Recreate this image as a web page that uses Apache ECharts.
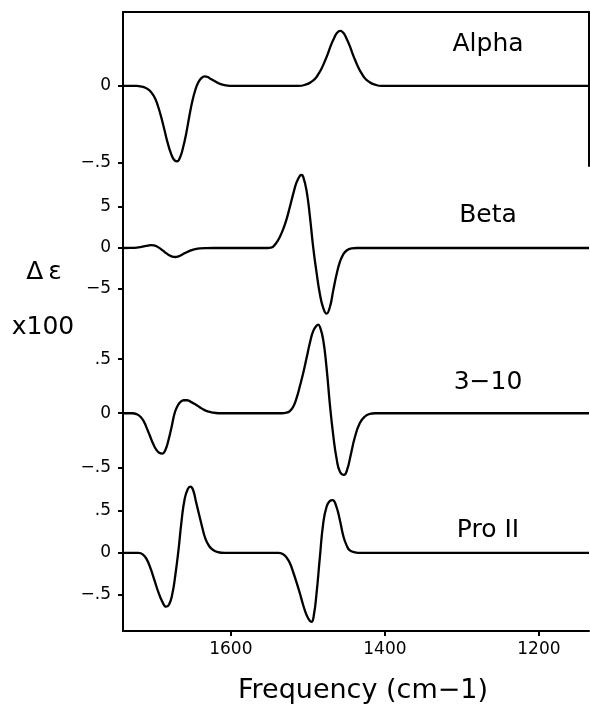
<!DOCTYPE html>
<html>
<head>
<meta charset="utf-8">
<script src="https://cdn.jsdelivr.net/npm/echarts@6/dist/echarts.min.js"></script>
<style>
  html, body { margin: 0; padding: 0; background: #fff; }
  #main { width: 590px; height: 704px; }
</style>
</head>
<body>
<div id="main"></div>
<script>
// frequency (cm-1), delta epsilon
const alpha = [[1740,0],[1722,0],[1716,-0.004],[1711,-0.012],[1706,-0.028],[1702,-0.05],[1698,-0.085],[1694,-0.14],[1690,-0.21],[1686,-0.29],[1682,-0.37],[1678,-0.435],[1674,-0.478],[1670,-0.49],[1666,-0.465],[1662,-0.4],[1658,-0.31],[1654,-0.2],[1650,-0.1],[1646,-0.025],[1642,0.025],[1638,0.052],[1634,0.062],[1630,0.058],[1626,0.045],[1620,0.028],[1614,0.013],[1606,0.004],[1598,0],
  [1512,0],[1502,0.01],[1496,0.025],[1490,0.05],[1486,0.08],[1482,0.115],[1478,0.16],[1474,0.21],[1470,0.265],[1466,0.31],[1462,0.345],[1458,0.357],[1454,0.345],[1450,0.31],[1446,0.265],[1442,0.21],[1438,0.16],[1434,0.115],[1430,0.08],[1426,0.05],[1420,0.025],[1414,0.01],[1404,0],[1135,0]];
const beta = [[1740,0],[1730,0.01],[1722,0.05],[1716,0.14],[1710,0.26],[1704,0.34],[1700,0.32],[1696,0.18],[1692,-0.05],[1688,-0.33],[1684,-0.62],[1680,-0.88],[1676,-1.05],[1672,-1.1],[1668,-1.02],[1664,-0.85],[1660,-0.65],[1656,-0.46],[1652,-0.3],[1646,-0.14],[1640,-0.05],[1632,-0.01],[1622,0],
  [1552,0],[1548,0.05],[1545,0.18],[1540.7,0.65],[1536.4,1.35],[1532,2.3],[1527.7,3.5],[1523.4,5.0],[1519,6.6],[1514.7,8.0],[1510.4,8.8],[1508.2,8.9],[1506.1,8.7],[1501.7,7.0],[1497.4,3.9],[1493.1,0.1],[1488.7,-3.0],[1484.4,-5.6],[1480.1,-7.3],[1475.7,-8.0],[1471.4,-7.2],[1467.1,-5.2],[1462.7,-3.2],[1458.4,-1.7],[1454.2,-0.8],[1449.7,-0.3],[1443.2,-0.05],[1436.8,0],[1135,0]];
const helix310 = [[1740,0],[1728,0],[1722,-0.01],[1717,-0.035],[1713,-0.075],[1709,-0.14],[1705,-0.21],[1701,-0.28],[1697,-0.335],[1693,-0.365],[1689,-0.373],[1685,-0.34],[1681,-0.25],[1677,-0.13],[1673,0],[1669,0.07],[1665,0.108],[1661,0.12],[1657,0.12],[1653,0.11],[1648,0.09],[1643,0.068],[1638,0.045],[1632,0.022],[1625,0.008],[1616,0],
  [1534,0],[1527.7,0.005],[1523.4,0.02],[1519,0.06],[1514.7,0.14],[1510.4,0.25],[1506.1,0.37],[1501.7,0.51],[1497.4,0.65],[1493.1,0.76],[1488.7,0.81],[1486.6,0.82],[1484.4,0.8],[1480.1,0.68],[1475.7,0.42],[1471.4,0.08],[1467.1,-0.2],[1462.7,-0.42],[1458.4,-0.54],[1453.2,-0.57],[1448.9,-0.52],[1444.5,-0.39],[1438.9,-0.22],[1432.5,-0.09],[1426,-0.03],[1419.5,-0.006],[1413,0],[1135,0]];
const proII = [[1740,0],[1720,0],[1714,-0.02],[1709,-0.08],[1704,-0.19],[1699,-0.33],[1694,-0.47],[1689,-0.58],[1684,-0.64],[1680,-0.61],[1676,-0.49],[1672,-0.26],[1668,0.03],[1664,0.38],[1660,0.64],[1656,0.76],[1652.5,0.79],[1649,0.75],[1645,0.6],[1641,0.45],[1637,0.3],[1633,0.17],[1628,0.08],[1623,0.035],[1617,0.01],[1608,0],
  [1545,0],[1538.6,0],[1532.1,-0.016],[1527.7,-0.055],[1523.4,-0.12],[1519,-0.23],[1514.7,-0.35],[1510.4,-0.48],[1506.1,-0.62],[1501.7,-0.74],[1497.4,-0.81],[1495.2,-0.82],[1492.2,-0.74],[1488.7,-0.48],[1484.4,-0.05],[1480.1,0.35],[1475.7,0.55],[1471.4,0.62],[1467.9,0.63],[1463.6,0.57],[1458.4,0.39],[1454.2,0.21],[1449.7,0.09],[1445.5,0.03],[1439,0.008],[1432.5,0],[1135,0]];

const panelNames = ['Alpha', 'Beta', '3\u221210', 'Pro II'];
const freqTicks = [1600, 1400, 1200];
const freqTickLabels = ['1600', '1400', '1200'];
const alphaTicks = [0, -0.5];
const alphaTickLabels = ['0', '\u2212.5'];
const betaTicks = [5, 0, -5];
const betaTickLabels = ['5', '0', '\u22125'];
const h310Ticks = [0.5, 0, -0.5];
const h310TickLabels = ['.5', '0', '\u2212.5'];
const proTicks = [0.5, 0, -0.5];
const proTickLabels = ['.5', '0', '\u2212.5'];

const FONT = 'DejaVu Sans';
const BLACK = '#000';
const X_MIN = 1135, X_MAX = 1740;

// panel layout: top / height in px, y range
const panels = [
  { top: 12, height: 154, min: -0.52, max: 0.48, ticks: alphaTicks, labels: alphaTickLabels, data: alpha, textY: 44 },
  { top: 166, height: 164, min: -10, max: 10, ticks: betaTicks, labels: betaTickLabels, data: beta, textY: 215 },
  { top: 330, height: 160, min: -0.71, max: 0.77, ticks: h310Ticks, labels: h310TickLabels, data: helix310, textY: 382 },
  { top: 490, height: 141, min: -0.93, max: 0.75, ticks: proTicks, labels: proTickLabels, data: proII, textY: 530 }
];

const axisStyle = { color: BLACK, width: 2 };
const curveStyle = { color: BLACK, width: 2.3 };

const grid = panels.map(p => ({ left: 123, right: 1, top: p.top, height: p.height }));

const xAxis = panels.map((p, i) => {
  const ax = {
    type: 'value', gridIndex: i, inverse: true, min: X_MIN, max: X_MAX,
    splitLine: { show: false },
    axisLine: { show: false, onZero: false, lineStyle: axisStyle },
    axisTick: { show: false },
    axisLabel: { show: false }
  };
  if (i === 0) {
    ax.position = 'top';
    ax.axisLine.show = true;
  }
  if (i === panels.length - 1) {
    ax.position = 'bottom';
    ax.axisLine.show = true;
    ax.axisTick = { show: true, customValues: freqTicks, length: 5, lineStyle: axisStyle };
    ax.axisLabel = {
      show: true, customValues: freqTicks, margin: 10,
      formatter: v => freqTickLabels[freqTicks.indexOf(v)] || '',
      color: BLACK, fontSize: 17, fontFamily: FONT
    };
  }
  return ax;
});

const yAxis = [];
const series = [];
panels.forEach((p, i) => {
  yAxis.push({
    type: 'value', gridIndex: i, min: p.min, max: p.max,
    splitLine: { show: false },
    axisLine: { show: true, onZero: false, lineStyle: axisStyle },
    axisTick: { show: true, customValues: p.ticks, length: 5, lineStyle: axisStyle },
    axisLabel: {
      customValues: p.ticks, margin: 12,
      formatter: v => p.labels[p.ticks.indexOf(v)] || '',
      color: BLACK, fontSize: 17, fontFamily: FONT
    }
  });
  series.push({
    type: 'line', xAxisIndex: i, yAxisIndex: yAxis.length - 1,
    data: p.data, showSymbol: false, smooth: 0.5, clip: false,
    lineStyle: curveStyle, silent: true
  });
});
// right border of the top panel
yAxis.push({
  type: 'value', gridIndex: 0, position: 'right', min: panels[0].min, max: panels[0].max,
  splitLine: { show: false }, axisTick: { show: false }, axisLabel: { show: false },
  axisLine: { show: true, onZero: false, lineStyle: axisStyle }
});

function label(text, x, y, size) {
  return {
    type: 'text', x: x, y: y, silent: true,
    style: {
      text: text, fill: BLACK, font: size + 'px "' + FONT + '"',
      align: 'center', verticalAlign: 'middle',
      textAlign: 'center', textVerticalAlign: 'middle'
    }
  };
}

const graphic = panels.map((p, i) => label(panelNames[i], 488, p.textY, 25));
graphic.push(label('\u0394\u2009\u03b5', 44, 272, 25));
graphic.push(label('x100', 43, 327, 25));
graphic.push(label('Frequency (cm\u22121)', 363, 691, 27));

const chart = echarts.init(document.getElementById('main'), null, { renderer: 'canvas' });
chart.setOption({
  animation: false,
  backgroundColor: '#fff',
  grid: grid,
  xAxis: xAxis,
  yAxis: yAxis,
  series: series,
  graphic: graphic
});
</script>
</body>
</html>
